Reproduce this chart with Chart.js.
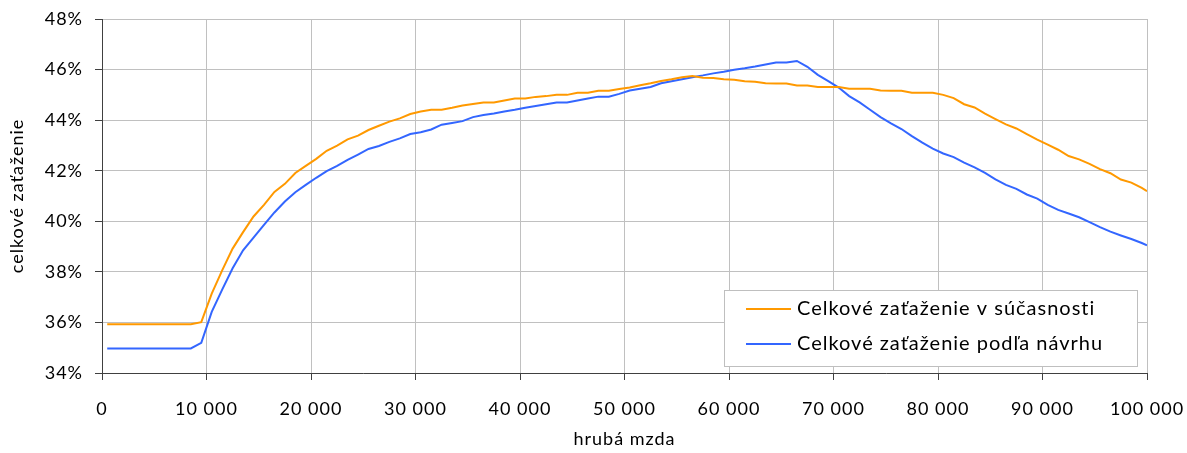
<!DOCTYPE html>
<html>
<head>
<meta charset="utf-8">
<script src="https://cdn.jsdelivr.net/npm/chart.js@4.4.0/dist/chart.umd.min.js"></script>
<style>
  html, body { margin: 0; padding: 0; background: #fff; }
  #wrap { width: 1187px; height: 453px; position: relative; }
</style>
</head>
<body>
<div id="wrap"><canvas id="chart" width="1187" height="453"></canvas></div>
<script>
// gross wage (x positions of points)
const wages = [
  500, 1500, 2500, 3500, 4500, 5500, 6500, 7500, 8500, 9500,
  10500, 11500, 12500, 13500, 14500, 15500, 16500, 17500, 18500, 19500,
  20500, 21500, 22500, 23500, 24500, 25500, 26500, 27500, 28500, 29500,
  30500, 31500, 32500, 33500, 34500, 35500, 36500, 37500, 38500, 39500,
  40500, 41500, 42500, 43500, 44500, 45500, 46500, 47500, 48500, 49500,
  50500, 51500, 52500, 53500, 54500, 55500, 56500, 57500, 58500, 59500,
  60500, 61500, 62500, 63500, 64500, 65500, 66500, 67500, 68500, 69500,
  70500, 71500, 72500, 73500, 74500, 75500, 76500, 77500, 78500, 79500,
  80500, 81500, 82500, 83500, 84500, 85500, 86500, 87500, 88500, 89500,
  90500, 91500, 92500, 93500, 94500, 95500, 96500, 97500, 98500, 99500,
  100000
];

// total burden today (%)
const current = [
  35.93, 35.93, 35.93, 35.93, 35.93, 35.93, 35.93, 35.93, 35.93, 36.01,
  37.14, 38.06, 38.92, 39.57, 40.19, 40.65, 41.16, 41.48, 41.91, 42.19,
  42.47, 42.79, 42.99, 43.24, 43.39, 43.61, 43.78, 43.94, 44.07, 44.24,
  44.34, 44.41, 44.41, 44.49, 44.58, 44.64, 44.70, 44.70, 44.78, 44.86,
  44.86, 44.92, 44.95, 45.00, 45.00, 45.08, 45.08, 45.16, 45.16, 45.23,
  45.29, 45.38, 45.46, 45.55, 45.62, 45.70, 45.75, 45.68, 45.67, 45.62,
  45.60, 45.54, 45.52, 45.46, 45.45, 45.45, 45.37, 45.37, 45.31, 45.31,
  45.31, 45.24, 45.24, 45.24, 45.17, 45.16, 45.16, 45.08, 45.08, 45.08,
  45.00, 44.87, 44.63, 44.50, 44.26, 44.04, 43.83, 43.67, 43.45, 43.23,
  43.03, 42.83, 42.58, 42.45, 42.27, 42.06, 41.90, 41.65, 41.53, 41.32,
  41.19
];

// total burden by the proposal (%)
const proposal = [
  34.97, 34.97, 34.97, 34.97, 34.97, 34.97, 34.97, 34.97, 34.97, 35.19,
  36.42, 37.30, 38.14, 38.85, 39.35, 39.86, 40.35, 40.78, 41.15, 41.44,
  41.72, 41.98, 42.19, 42.43, 42.64, 42.86, 42.98, 43.14, 43.28, 43.45,
  43.52, 43.63, 43.82, 43.89, 43.96, 44.12, 44.20, 44.26, 44.34, 44.41,
  44.49, 44.56, 44.63, 44.70, 44.70, 44.78, 44.86, 44.93, 44.93, 45.04,
  45.17, 45.24, 45.31, 45.46, 45.54, 45.62, 45.70, 45.77, 45.85, 45.91,
  45.99, 46.05, 46.12, 46.20, 46.28, 46.28, 46.34, 46.11, 45.79, 45.54,
  45.29, 44.95, 44.70, 44.41, 44.12, 43.87, 43.65, 43.37, 43.11, 42.87,
  42.68, 42.54, 42.32, 42.13, 41.91, 41.66, 41.44, 41.28, 41.06, 40.90,
  40.65, 40.45, 40.31, 40.16, 39.97, 39.77, 39.59, 39.44, 39.30, 39.14,
  39.05
];

const seriesNames = ['Celkové zaťaženie v súčasnosti', 'Celkové zaťaženie podľa návrhu'];
const seriesColors = ['#FF9900', '#3366FF'];

const FONT = 'Lato, "Liberation Sans", sans-serif';
const axisColor = '#404040';
const gridColor = '#c0c0c0';

// legend box drawn inside the plot, bottom right
const boxLegend = {
  id: 'boxLegend',
  afterDraw(chart) {
    const ctx = chart.ctx;
    const area = chart.chartArea;
    const w = 413, h = 76;
    const x0 = area.right - 10 - w;
    const y0 = area.bottom - 7 - h;
    ctx.save();
    ctx.fillStyle = '#fff';
    ctx.fillRect(x0, y0, w, h);
    ctx.strokeStyle = '#bfbfbf';
    ctx.lineWidth = 1;
    ctx.strokeRect(Math.round(x0) + 0.5, Math.round(y0) + 0.5, w, h);
    ctx.font = '20px ' + FONT;
    ctx.letterSpacing = '1px';
    ctx.textBaseline = 'middle';
    chart.data.datasets.forEach((ds, i) => {
      const y = y0 + 19 + i * 35;
      ctx.strokeStyle = ds.borderColor;
      ctx.lineWidth = 2;
      ctx.beginPath();
      ctx.moveTo(x0 + 22, y);
      ctx.lineTo(x0 + 67, y);
      ctx.stroke();
      ctx.fillStyle = '#000';
      ctx.fillText(ds.label, x0 + 73, y);
    });
    ctx.restore();
  }
};

const spacing = {
  id: 'spacing',
  beforeDraw(chart) { chart.ctx.letterSpacing = '1px'; }
};

new Chart(document.getElementById('chart'), {
  type: 'line',
  data: {
    datasets: seriesNames.map((name, i) => ({
      label: name,
      data: wages.map((w, j) => ({ x: w, y: (i === 0 ? current : proposal)[j] })),
      borderColor: seriesColors[i],
      backgroundColor: seriesColors[i],
      borderWidth: 2,
      pointRadius: 0,
      tension: 0
    }))
  },
  options: {
    responsive: false,
    animation: false,
    layout: { padding: { left: 0, right: 40, top: 19, bottom: 0 } },
    plugins: {
      legend: { display: false },
      tooltip: { enabled: false }
    },
    scales: {
      x: {
        type: 'linear',
        min: 0,
        max: 100000,
        afterFit(scale) {
          scale.height = 80;
          scale.paddingLeft = 0;
          scale.paddingRight = 0;
        },
        ticks: {
          stepSize: 10000,
          padding: 18,
          maxRotation: 0,
          color: '#000',
          font: { family: FONT, size: 18 },
          callback: v => v.toLocaleString('en-US').replace(/,/g, ' ')
        },
        grid: { color: gridColor, tickColor: axisColor, tickLength: 7 },
        border: { color: axisColor, width: 1 },
        title: {
          display: true,
          text: 'hrubá mzda',
          color: '#000',
          font: { family: FONT, size: 18 },
          padding: { top: 0, bottom: 3 }
        }
      },
      y: {
        min: 34,
        max: 48,
        afterFit(scale) {
          scale.width = 102;
          scale.paddingTop = 0;
          scale.paddingBottom = 0;
        },
        ticks: {
          stepSize: 2,
          padding: 12,
          color: '#000',
          font: { family: FONT, size: 18 },
          callback: v => v + '%'
        },
        grid: { color: gridColor, tickColor: axisColor, tickLength: 7 },
        border: { color: axisColor, width: 1 },
        title: {
          display: true,
          text: 'celkové zaťaženie',
          color: '#000',
          font: { family: FONT, size: 18 },
          padding: { top: 6, bottom: 0 }
        }
      }
    }
  },
  plugins: [spacing, boxLegend]
});
</script>
</body>
</html>
